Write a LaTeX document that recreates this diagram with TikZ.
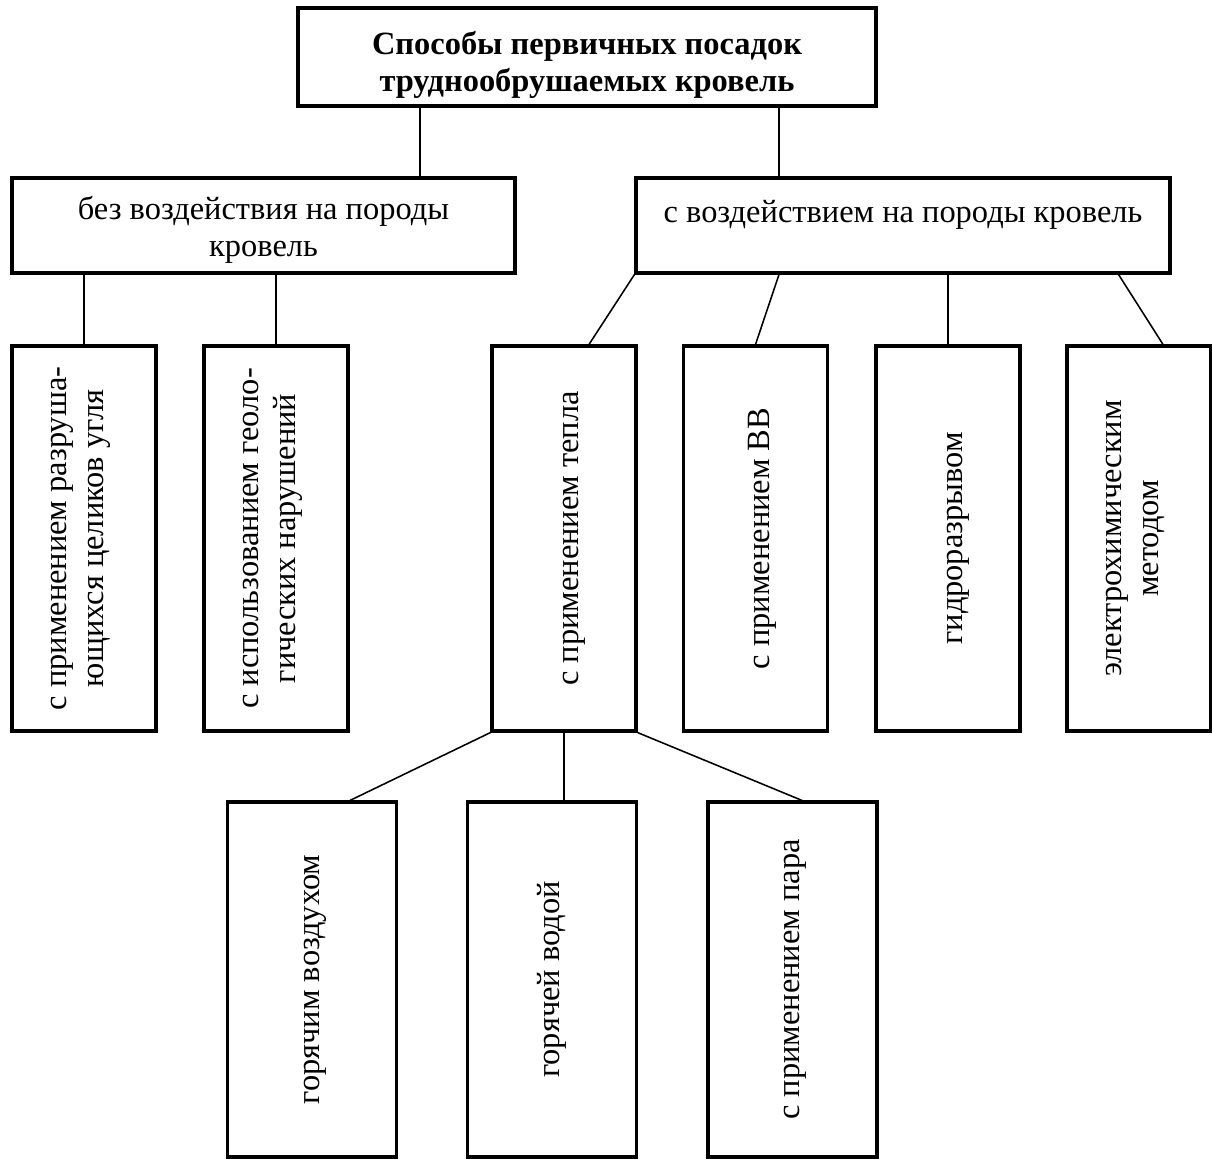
\documentclass[tikz,border=0pt]{standalone}
\usepackage{fontspec}
\setmainfont{Liberation Serif}
\usepackage{graphicx}
\usepackage{tikz}
\usetikzlibrary{shapes, arrows.meta, positioning}

% rotated label, optional sideways shift
\newcommand{\vlabel}[2][0pt]{\hspace*{#1}\rotatebox{90}{\begin{tabular}{@{}c@{}}#2\end{tabular}}}
\newcommand{\topgap}[1]{\rule{0pt}{#1}}

\tikzset{
    box/.style={draw, rectangle, line width=1.4pt, inner sep=2pt, align=center,
        font=\fontsize{14.6pt}{16.6pt}\selectfont},
    headbox/.style={box, minimum width=260.1pt, minimum height=44.1pt,
        font=\fontsize{14.6pt}{16.6pt}\selectfont\bfseries},
    groupbox/.style={box, minimum height=42.75pt},
    upbox/.style={box, minimum width=64.8pt, minimum height=173.25pt},
    lowbox/.style={box, minimum width=76.05pt, minimum height=159.75pt},
    link/.style={line width=0.7pt}
}

\begin{document}
\begin{tikzpicture}[x=0.45pt, y=-0.45pt]
    \useasboundingbox (0,0) rectangle (1212,1162);

    % top and second level
    \node[headbox] (head) at (587,57) {\topgap{17.4pt}Способы первичных посадок\\труднообрушаемых кровель};
    \node[groupbox, minimum width=226.35pt] (passive) at (263.5,225.5) {\topgap{14pt}без воздействия на породы\\кровель};
    \node[groupbox, minimum width=240.3pt] (active) at (903,225.5) {\topgap{14pt}с воздействием на породы кровель\\ \mbox{}};

    % third level
    \node[upbox] (pillars) at (84,538.5) {\vlabel[-6pt]{с применением разруша-\\ющихся целиков угля}};
    \node[upbox] (faults) at (276,538.5) {\vlabel[-6pt]{с использованием геоло-\\гических нарушений}};
    \node[upbox] (heat) at (564,538.5) {\vlabel[6pt]{с применением тепла}};
    \node[upbox] (blast) at (755.5,538.5) {\vlabel[6pt]{с применением ВВ}};
    \node[upbox] (hydro) at (948,538.5) {\vlabel[6pt]{гидроразрывом}};
    \node[upbox] (electro) at (1139,538.5) {\vlabel[-6pt]{электрохимическим\\методом}};

    % heat methods
    \node[lowbox] (air) at (312,979.5) {\vlabel{горячим воздухом}};
    \node[lowbox] (water) at (552,979.5) {\vlabel{горячей водой}};
    \node[lowbox] (steam) at (792.5,979.5) {\vlabel{с применением пара}};

    % connectors
    \coordinate (k1) at (420,0);
    \coordinate (k2) at (779,0);
    \draw[link] (head.south -| k1) -- (passive.north -| k1);
    \draw[link] (head.south -| k2) -- (active.north -| k2);
    \draw[link] (passive.south -| pillars) -- (pillars.north);
    \draw[link] (passive.south -| faults) -- (faults.north);
    \draw[link] (active.south west) -- ([xshift=11.25pt]heat.north);
    \draw[link] (active.south -| k2) -- (blast.north);
    \draw[link] (active.south -| hydro) -- (hydro.north);
    \draw[link] ([xshift=-23.85pt]active.south east) -- ([xshift=10.8pt]electro.north);
    \draw[link] (heat.south west) -- ([xshift=17.1pt]air.north);
    \draw[link] (heat.south) -- (heat.south |- water.north);
    \draw[link] (heat.south east) -- ([xshift=4.3pt]steam.north);
\end{tikzpicture}
\end{document}
